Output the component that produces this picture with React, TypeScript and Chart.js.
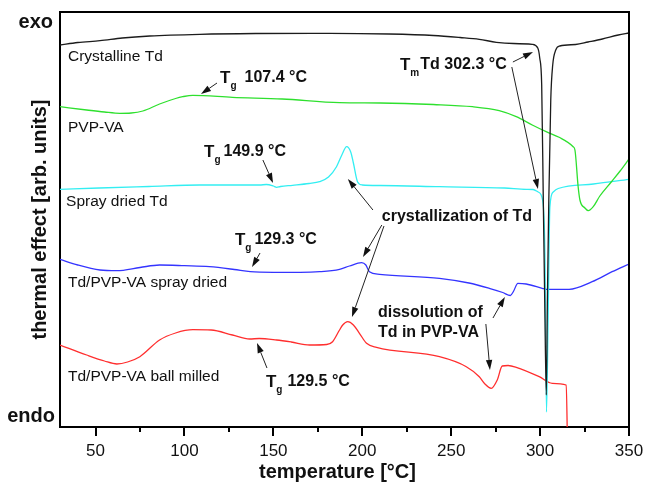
import React, { useEffect, useRef } from 'react';
import { Chart, registerables } from 'chart.js';

Chart.register(...registerables);

// ---- axis ticks ----
const majorTicks = [50, 100, 150, 200, 250, 300, 350];
const minorTicks = [75, 125, 175, 225, 275, 325];

// ---- series (temperature in °C, thermal effect in arb. units) ----
const crystallineT = [30, 40, 52.5, 65, 80.5, 108.6, 140, 181.6, 215, 240, 255, 265.8, 275.4, 285, 295.6, 298.7, 299.8, 300.9, 301.8, 302.6, 303.5, 304.1, 304.9, 306.0, 307.1, 308.8, 311.1, 320, 327, 335, 344, 350];
const crystallineY = [382, 384.5, 386.3, 389, 391, 392.7, 393.5, 393.7, 393, 391.5, 389.5, 387.7, 384.7, 383.5, 382.7, 379, 369, 342, 227, 127, 32, 127, 227, 327, 362, 377, 381, 382.5, 385, 388, 392, 394];

const pvpvaT = [30, 45, 55, 63.7, 70, 76.6, 86, 95, 99, 104.7, 127, 155, 187.2, 210, 240, 262, 277, 286.6, 295.6, 303.4, 310.7, 318.6, 319.6, 321.4, 322.4, 325.2, 327.1, 329.9, 333.6, 340, 345, 350];
const pvpvaY = [320.3, 317, 315, 313.7, 314, 316, 323, 328.5, 330.3, 331.7, 329.7, 328, 324.3, 324, 322.5, 320.3, 316.3, 310.3, 302, 295.3, 289.7, 280.3, 277, 240.3, 227, 219, 216.3, 220.3, 231, 245, 256, 268];

const sprayTdT = [30, 52, 80, 108.6, 142.3, 146, 150, 151.8, 154, 160.8, 170, 176, 181, 185.5, 188.5, 191.2, 193.5, 195, 197.3, 200, 210, 243.4, 280, 292.2, 296.1, 298.9, 301.4, 302.7, 303.6, 304.5, 305.5, 307.4, 310.2, 330, 350];
const sprayTdY = [237.7, 239, 240.5, 242, 242, 242.5, 241, 239.7, 240.5, 241.7, 243.5, 245.3, 250, 260.3, 272, 280.3, 275, 264, 245.3, 242, 241.5, 240.3, 239, 237.7, 237.5, 235, 227, 174, 15, 107, 220, 235, 238.5, 243, 247.7];

const sprayMixT = [30, 40, 52.5, 62, 75, 86, 100, 114, 128, 137, 150, 165, 176, 187.2, 192.8, 199.6, 202, 204, 209.7, 243.4, 260, 271.4, 279, 283.3, 285, 287.5, 292.2, 301.2, 303.4, 316.3, 329.3, 340.5, 350];
const sprayMixY = [167.7, 162, 157, 156.3, 159.5, 162, 161.3, 160.3, 157.5, 155.3, 154.7, 154.7, 155.3, 157.7, 161, 164.3, 162, 155.3, 152.7, 148.7, 144, 138.7, 134.5, 131.5, 135.5, 143.7, 143, 138.7, 137.7, 137.7, 145.3, 155.3, 163];

const milledMixT = [30, 45, 55, 62, 68, 74.9, 86, 95, 104.7, 115, 127, 136.7, 142, 151.8, 160, 170.4, 180, 183.3, 187.2, 189, 191.8, 195, 198.4, 202.4, 208, 243.4, 258.5, 265.8, 269, 272.5, 275.9, 278.7, 282, 286.6, 299.5, 306.8, 314.7, 315.5];
const milledMixY = [82, 72, 66, 63, 65, 70.3, 87, 94, 97.3, 97, 92, 88, 88.5, 87, 85, 82, 82.5, 85.3, 97, 102, 105.3, 102, 93.7, 83.7, 79.7, 70.3, 60.3, 50.3, 43, 38.7, 47, 61, 61.5, 59.7, 50.3, 43.7, 42, -30];

const seriesNames = ['Crystalline Td', 'PVP-VA', 'Spray dried Td', 'Td/PVP-VA spray dried', 'Td/PVP-VA ball milled'];
const seriesColors = ['#1c1c1c', '#2ee02e', '#33eef2', '#3434ff', '#ff2e2e'];

const zip = (xs: number[], ys: number[]) => xs.map((x, i) => ({ x, y: ys[i] }));

const FONT = "'Liberation Sans', Arial, Helvetica, sans-serif";
const TEXT = '#111';

type Seg = [number, number, number, number];

// annotations (data coordinates)
const curveLabels: [string, number, number][] = [
  ['Crystalline Td', 34.5, 370],
  ['PVP-VA', 34.5, 299],
  ['Spray dried Td', 33.4, 225],
  ['Td/PVP-VA spray dried', 34.5, 144],
  ['Td/PVP-VA ball milled', 34.5, 50],
];

const arrows: Seg[] = [
  [118.3, 344, 109.3, 333],
  [144.1, 267, 149.8, 244],
  [142.5, 174, 138.0, 160],
  [146.4, 59, 140.8, 84],
  [284.7, 365, 296.0, 375],
  [284.1, 360, 298.8, 238],
  [206.0, 217, 191.9, 248],
  [211.0, 202, 200.4, 170],
  [212.2, 201, 194.2, 110],
  [273.5, 109, 280.2, 130],
  [269.5, 103, 271.8, 57],
];

const overlayPlugin = {
  id: 'overlay',
  afterDraw(chart: any) {
    const { ctx, chartArea: a, scales } = chart;
    const X = (t: number) => scales.x.getPixelForValue(t);
    const Y = (v: number) => scales.y.getPixelForValue(v);
    ctx.save();

    // frame top and right
    ctx.strokeStyle = '#000';
    ctx.lineWidth = 2;
    ctx.beginPath();
    ctx.moveTo(a.left, a.top);
    ctx.lineTo(a.right, a.top);
    ctx.lineTo(a.right, a.bottom);
    ctx.stroke();

    // tick marks
    ctx.lineWidth = 2;
    ctx.beginPath();
    majorTicks.forEach((t) => {
      const p = Math.round(X(t));
      ctx.moveTo(p, a.bottom);
      ctx.lineTo(p, a.bottom + 9);
    });
    minorTicks.forEach((t) => {
      const p = Math.round(X(t));
      ctx.moveTo(p, a.bottom);
      ctx.lineTo(p, a.bottom + 5);
    });
    ctx.stroke();

    // titles
    ctx.fillStyle = TEXT;
    ctx.font = `bold 20px ${FONT}`;
    ctx.textBaseline = 'middle';
    ctx.textAlign = 'center';
    ctx.fillText('temperature [°C]', (a.left + a.right) / 2 - 7, a.bottom + 45);
    ctx.save();
    ctx.translate(40, (a.top + a.bottom) / 2 + 0);
    ctx.rotate(-Math.PI / 2);
    ctx.fillText('thermal effect [arb. units]', 0, 0);
    ctx.restore();
    ctx.textAlign = 'right';
    ctx.fillText('exo', a.left - 7, a.top + 10);
    ctx.fillText('endo', a.left - 5, a.bottom - 11);

    // curve labels
    ctx.textAlign = 'left';
    ctx.font = `15.5px ${FONT}`;
    curveLabels.forEach(([s, t, v]) => ctx.fillText(s, X(t), Y(v)));

    // bold annotations
    const rich = (t: number, v: number, main: string, sub: string, rest: string, gap: number) => {
      let x = X(t);
      const y = Y(v);
      ctx.font = `bold 17px ${FONT}`;
      ctx.fillText(main, x, y);
      x += ctx.measureText(main).width;
      ctx.font = `bold 10px ${FONT}`;
      ctx.fillText(sub, x, y + 8);
      x += ctx.measureText(sub).width + gap;
      ctx.font = `bold 16px ${FONT}`;
      ctx.fillText(rest, x, y);
    };
    rich(120, 349, 'T', 'g', '107.4 °C', 8);
    rich(111, 275, 'T', 'g', '149.9 °C', 3);
    rich(128.4, 187, 'T', 'g', '129.3 °C', 3);
    rich(145.8, 45, 'T', 'g', '129.5 °C', 5);
    rich(221.2, 362, 'T', 'm', 'Td 302.3 °C', 1);

    ctx.font = `bold 16px ${FONT}`;
    ctx.fillText('crystallization of Td', X(211), Y(210));
    ctx.fillText('dissolution of', X(208.8), Y(114));
    ctx.fillText('Td in PVP-VA', X(208.8), Y(94));

    // arrows
    ctx.strokeStyle = '#222';
    ctx.fillStyle = '#111';
    ctx.lineWidth = 1;
    arrows.forEach(([t1, v1, t2, v2]) => {
      const x1 = X(t1), y1 = Y(v1), x2 = X(t2), y2 = Y(v2);
      const ang = Math.atan2(y2 - y1, x2 - x1);
      const L = 10, W = 3.2;
      const bx = x2 - L * Math.cos(ang), by = y2 - L * Math.sin(ang);
      ctx.beginPath();
      ctx.moveTo(x1, y1);
      ctx.lineTo(bx, by);
      ctx.stroke();
      ctx.beginPath();
      ctx.moveTo(x2, y2);
      ctx.lineTo(bx + W * Math.sin(ang), by - W * Math.cos(ang));
      ctx.lineTo(bx - W * Math.sin(ang), by + W * Math.cos(ang));
      ctx.closePath();
      ctx.fill();
    });

    ctx.restore();
  },
};

export default function App() {
  const ref = useRef<HTMLCanvasElement | null>(null);

  useEffect(() => {
    if (!ref.current) return;
    const seriesX = [crystallineT, pvpvaT, sprayTdT, sprayMixT, milledMixT];
    const seriesY = [crystallineY, pvpvaY, sprayTdY, sprayMixY, milledMixY];
    const chart = new Chart(ref.current, {
      type: 'line',
      data: {
        datasets: seriesNames.map((name, i) => ({
          label: name,
          data: zip(seriesX[i], seriesY[i]),
          borderColor: seriesColors[i],
          backgroundColor: seriesColors[i],
          borderWidth: 1.3,
          pointRadius: 0,
          cubicInterpolationMode: 'monotone' as const,
          fill: false,
        })),
      },
      options: {
        responsive: false,
        animation: false,
        events: [],
        layout: { padding: { top: 12, right: 17, left: 0, bottom: 0 } },
        plugins: { legend: { display: false }, tooltip: { enabled: false } },
        scales: {
          x: {
            type: 'linear',
            min: 30,
            max: 350,
            afterFit: (s: any) => { s.height = 58; s.paddingLeft = 0; s.paddingRight = 0; },
            afterBuildTicks: (s: any) => { s.ticks = majorTicks.map((v) => ({ value: v })); },
            ticks: {
              font: { size: 17, family: FONT },
              color: TEXT,
              padding: 6,
              maxRotation: 0,
              autoSkip: false,
            },
            grid: { display: false },
            border: { display: true, width: 2, color: '#000' },
          },
          y: {
            type: 'linear',
            min: 0,
            max: 415,
            afterFit: (s: any) => { s.width = 60; s.paddingTop = 0; s.paddingBottom = 0; },
            ticks: { display: false },
            grid: { display: false },
            border: { display: true, width: 2, color: '#000' },
          },
        },
      },
      plugins: [overlayPlugin],
    });
    return () => chart.destroy();
  }, []);

  return (
    <div style={{ position: 'absolute', left: 0, top: 0, width: 646, height: 485, background: '#fff' }}>
      <canvas ref={ref} width={646} height={485} />
    </div>
  );
}
